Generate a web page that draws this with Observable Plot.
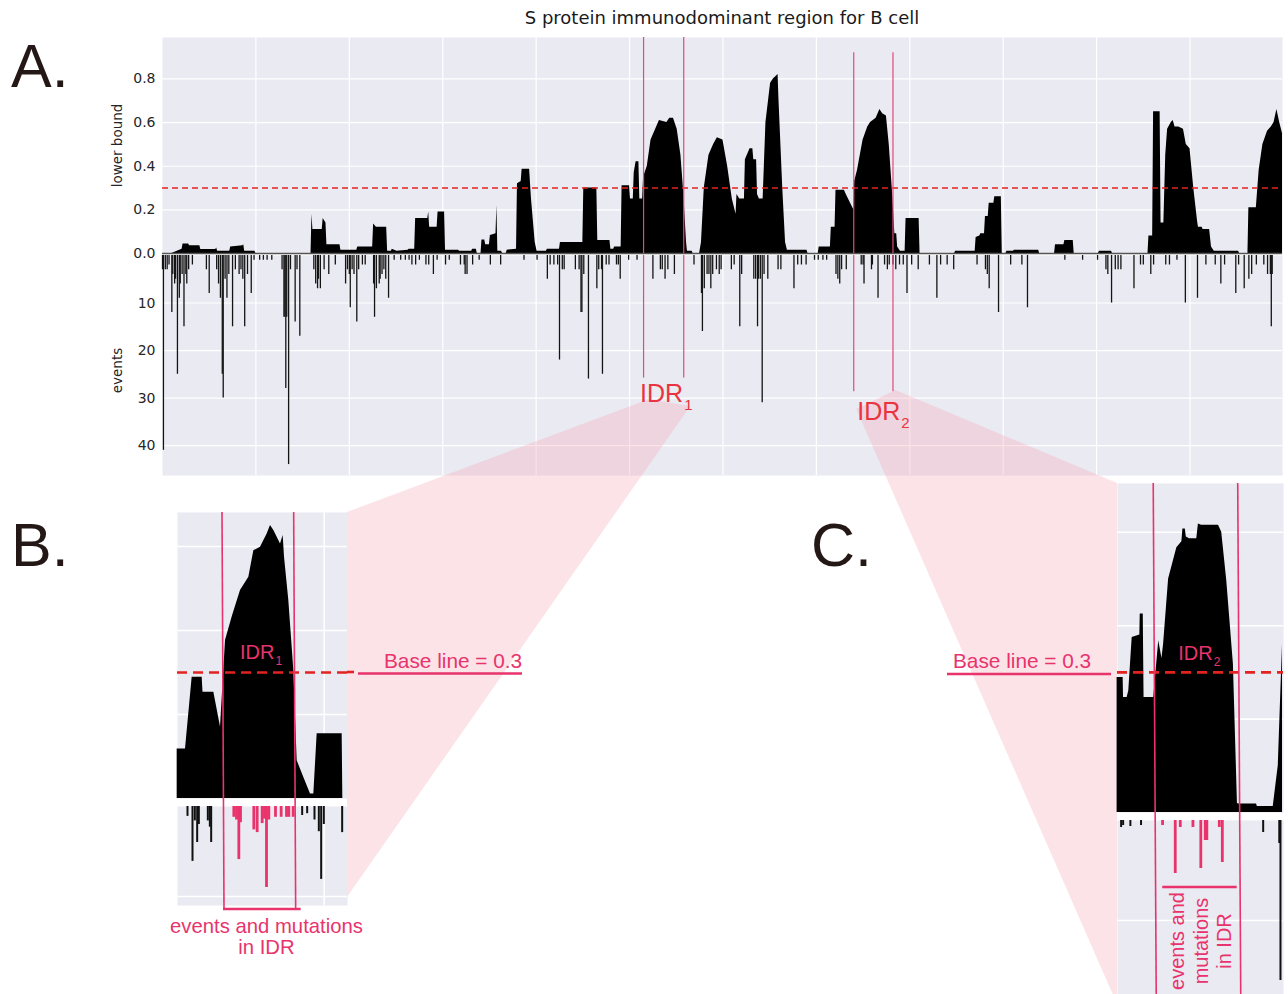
<!DOCTYPE html>
<html>
<head>
<meta charset="utf-8">
<script src="https://cdn.jsdelivr.net/npm/d3@7"></script>
<script src="https://cdn.jsdelivr.net/npm/@observablehq/plot@0.6"></script>
<style>
  html, body { margin: 0; padding: 0; background: #fff; }
  body { width: 1288px; height: 994px; position: relative; overflow: hidden; }
  .pane { position: absolute; }
  .pane svg { display: block; overflow: visible; }
</style>
</head>
<body>
<script>
// ---------------- DATA ----------------
// Panel A, upper track: lower bound along the S protein (residue position, value)
const lbPos = [
  0,10,21,22,28,29,40,41,57,58,
  59,72,73,86,87,88,99,100,159,160,
  161,171,172,175,176,190,191,208,209,225,
  226,229,240,241,245,246,251,263,264,270,
  271,284,285,286,294,295,302,303,317,318,
  331,332,336,337,341,342,345,346,350,351,
  357,358,359,363,364,368,369,379,380,384,
  385,393,395,397,399,401,411,412,425,426,
  450,451,465,466,479,480,483,484,491,492,
  500,501,504,505,507,510,511,514,515,519,
  523,529,532,540,543,547,551,555,558,561,
  562,567,568,575,577,580,585,590,594,600,
  605,610,614,615,618,623,624,629,632,633,
  636,637,639,643,646,651,654,659,660,664,
  667,669,690,691,702,703,715,716,720,721,
  730,732,740,741,744,750,755,758,764,768,
  771,775,778,782,784,786,787,790,795,796,
  810,811,848,849,870,871,875,876,880,881,
  884,885,890,891,898,899,903,904,911,912,
  938,939,955,956,965,966,975,976,1002,1003,
  1016,1017,1055,1056,1060,1061,1068,1069,1072,1074,
  1076,1080,1082,1084,1088,1093,1096,1100,1104,1108,
  1109,1113,1114,1121,1123,1126,1152,1153,1162,1163,
  1171,1174,1178,1183,1187,1190,1193,1196,1199
];
const lbVal = [
  0,0,0.02,0.044,0.044,0.035,0.035,0.018,0.018,0.025,
  0.01,0.01,0.03,0.035,0.04,0.01,0.01,0,0,0.18,
  0.11,0.11,0.16,0.14,0.04,0.04,0.015,0.015,0.03,0.03,
  0.135,0.12,0.12,0.01,0.01,0.02,0.01,0.015,0.02,0.02,
  0.16,0.16,0.19,0.12,0.12,0.19,0.19,0.015,0.015,0.01,
  0.01,0.02,0.02,0,0,0.062,0.062,0.04,0.04,0.083,
  0.09,0.22,0.01,0.01,0,0,0.015,0.02,0.32,0.33,
  0.386,0.386,0.25,0.15,0.05,0.01,0.01,0.02,0.02,0.05,
  0.05,0.30,0.30,0.06,0.06,0.02,0.02,0.03,0.03,0.31,
  0.31,0.25,0.25,0.37,0.42,0.42,0.25,0.25,0.35,0.40,
  0.52,0.58,0.61,0.60,0.62,0.62,0.57,0.45,0.28,0.05,
  0.01,0.01,0,0,0.05,0.30,0.45,0.50,0.53,0.52,
  0.40,0.25,0.18,0.27,0.25,0.25,0.43,0.48,0.48,0.43,
  0.43,0.27,0.25,0.25,0.60,0.78,0.80,0.82,0.70,0.30,
  0.05,0.015,0.015,0,0,0.03,0.03,0.12,0.12,0.29,
  0.29,0.27,0.20,0.33,0.38,0.52,0.58,0.60,0.62,0.66,
  0.64,0.63,0.50,0.25,0.09,0.09,0.03,0.01,0.01,0.16,
  0.16,0,0,0.01,0.01,0.073,0.08,0.09,0.09,0.17,
  0.17,0.23,0.23,0.26,0.26,0,0,0.01,0.01,0.015,
  0.015,0,0,0.04,0.04,0.06,0.06,0,0,0.01,
  0.01,0,0,0.08,0.08,0.65,0.65,0.14,0.14,0.45,
  0.57,0.60,0.61,0.58,0.58,0.57,0.50,0.48,0.30,0.15,
  0.12,0.12,0.11,0.11,0.03,0.01,0.01,0,0,0.21,
  0.21,0.38,0.50,0.56,0.58,0.60,0.66,0.60,0.55
];
// Panel A, lower track: events per residue
const evPos = [
  0,1,3,5,7,10,11,13,14,16,18,19,21,23,25,26,28,32,47,50,58,60,62,64,65,67,69,71,75,78,
  82,84,86,88,91,95,98,104,108,112,117,128,130,131,132,133,135,137,142,144,147,162,164,166,167,
  169,173,178,185,196,198,200,201,203,205,208,210,214,217,226,227,229,232,233,235,237,239,242,
  248,255,260,264,267,271,275,282,285,290,294,303,307,319,323,324,326,332,339,351,362,387,401,
  412,415,419,423,425,428,430,442,446,448,449,451,456,465,467,470,471,475,478,486,488,490,499,
  508,525,533,535,538,541,548,569,577,578,580,583,585,587,589,593,596,598,609,612,618,620,633,
  635,637,638,640,642,644,648,659,662,676,680,684,689,698,702,707,711,721,723,725,727,732,748,
  750,751,759,760,766,773,776,778,782,785,789,793,797,802,809,
  821,829,833,840,847,872,881,883,885,895,908,920,926,966,985,1001,1010,1012,1016,1020,1023,
  1026,1040,1047,1050,1058,1061,1074,1078,1086,1095,1108,1117,1127,1133,1137,1149,1152,1158,
  1163,1166,1171,1179,1183,1186,1187,1188
];
const evCount = [
  3,41,3,3,2,12,4,6,5,25,9,6,4,15,4,6,3,2,3,8,3,6,9,25,30,5,9,4,15,3,
  4,3,5,15,4,8,1,1,1,1,1,3,13,13,28,13,44,3,14,3,17,3,6,7,5,
  7,3,4,2,6,3,4,11,3,4,14,3,2,2,6,13,7,6,5,4,3,5,9,
  1,1,1,1,2,2,1,2,2,4,1,2,1,2,2,4,4,2,1,2,2,1,1,
  5,2,2,2,22,3,3,3,3,12,12,4,26,7,3,3,25,2,2,2,2,5,1,
  1,5,3,3,5,3,4,2,8,16,7,4,4,7,4,3,4,3,3,2,15,4,5,
  5,15,5,5,31,4,5,3,3,7,2,2,2,1,1,1,1,4,5,6,3,3,2,
  2,6,3,2,9,2,3,2,2,3,2,2,8,2,3,
  2,9,2,2,3,2,3,4,7,12,2,2,11,1,1,1,3,4,10,3,3,
  3,7,2,2,4,2,2,2,1,10,9,2,2,6,2,8,2,7,
  5,4,2,2,4,4,15,4
];
// Axis ticks, grid, regions
const lbTicks = [0, 0.2, 0.4, 0.6, 0.8];
const evTicks = [10, 20, 30, 40];
const gridPos = [100, 200, 300, 400, 500, 600, 700, 800, 900, 1000, 1100];
const idr1 = [515, 558];
const idr2 = [740, 782];
const baseLine = 0.3;

// Panel B (zoom on IDR1)
const insetBPos = [487.8,492.8,496.8,502.8,503.3,509.8,513.8,516.8,520.8,525.8,530.8,533.8,537.8,541.8,543.8,545.8,547.8,549.8,551.4,552.2,554.8,557.8,559.8,563.8,567.8,569.8,571.8,586.8,587.2,590];
const insetBVal = [0.118,0.118,0.289,0.289,0.253,0.253,0.17,0.376,0.432,0.495,0.527,0.59,0.598,0.63,0.65,0.638,0.622,0.606,0.626,0.575,0.471,0.305,0.09,0.05,0.011,0.011,0.154,0.154,0,0];
const insetBEvPos = [494,497,498.4,499.8,500.8,506.2,507.4,508.2,521.8,523.4,524.8,525.8,533.8,535.8,538.8,540.2,541.4,542.8,546.8,550.2,553.4,554.8,557.4,562.8,565.8,570.2,572.8,574.2,575.8,586.8];
const insetBEvCount = [1.1,6.1,1.6,4.0,2,1.6,2.3,4,1.2,1.5,5.9,1.8,2.6,2.9,1.9,1.4,9.0,1.5,1.2,1.2,1.2,1.2,1.2,1.0,0.8,1.5,2.8,8.1,2,2.9];
const insetBGrid = [576];

// Panel C (zoom on IDR2)
const insetCPos = [721.8,724.8,725.0,726.8,727.6,729.3,733.1,733.3,734.8,735.2,740,742.5,744.1,744.9,747.4,751.5,754,754.5,755.7,756.2,757.8,761.4,762.2,763.8,772.2,773.8,776.3,779.6,781.6,782.1,791.1,791.5,799.4,801.9,804];
const insetCVal = [0.289,0.289,0.246,0.246,0.26,0.375,0.38,0.425,0.425,0.246,0.246,0.368,0.33,0.36,0.5,0.567,0.58,0.607,0.607,0.59,0.586,0.586,0.618,0.615,0.615,0.6,0.496,0.318,0.02,0.018,0.018,0.013,0.013,0.1,0.36];
const insetCEvPos = [723.8,724.8,728.4,733.7,744.4,750.7,753.2,759.5,763.4,765.6,766.4,772.6,774.1,794.4,802.4,803];
const insetCEvCount = [0.7,0.5,0.6,0.5,0.5,5.3,0.7,0.7,4.8,2.0,2.0,0.7,4.2,1.2,2.3,16];
const insetCGrid = [];

// ---------------- LAYOUT / STYLE ----------------
const W = 1288, H = 994;
const BG = "#eaeaf2";
const RED = "#e3231f";
const PINK = "#e8336d";
const IDRC = "#e4497a";
const LABELRED = "#ea3340";
const POLY = "#f4a3b0";
const SANS = "'Liberation Sans', Arial, sans-serif";
const DEJAVU = "'DejaVu Sans', sans-serif";
const FL = 162, FR = 1282;
const TOP_Y0 = 37, TOP_Y1 = 253, EV_Y0 = 255, EV_Y1 = 475;
const B = {left: 177, right: 347, top: 512, areaBottom: 798, evTop: 806, evBottom: 905};
const C = {left: 1117, right: 1283, top: 483, areaBottom: 812, evTop: 820, evBottom: 994};

const plotStyle = {fontFamily: DEJAVU, fontSize: "14px", color: "#262626", background: "transparent", overflow: "visible"};

function place(node, left, top) {
  const d = document.createElement("div");
  d.className = "pane";
  d.style.left = left + "px";
  d.style.top = top + "px";
  d.appendChild(node);
  document.body.appendChild(d);
  return node;
}
function overlay() {
  const s = d3.create("svg").attr("width", W).attr("height", H)
    .style("position", "absolute").style("left", "0px").style("top", "0px").style("overflow", "visible");
  document.body.appendChild(s.node());
  return s;
}

// ---------------- PANEL A ----------------
const topPad = 10;
const topPlot = Plot.plot({
  width: W, height: (TOP_Y1 - TOP_Y0) + topPad,
  marginLeft: FL, marginRight: W - FR, marginTop: topPad, marginBottom: 0,
  style: plotStyle,
  x: {domain: [0, 1199], axis: null},
  y: {domain: [0, 0.99], ticks: lbTicks, tickFormat: ".1f", tickSize: 0, tickPadding: 7, label: null},
  marks: [
    Plot.frame({fill: BG, stroke: "none"}),
    Plot.ruleX(gridPos, {stroke: "white", strokeWidth: 1.2}),
    Plot.ruleY(lbTicks.slice(1), {stroke: "white", strokeWidth: 1.2}),
    Plot.areaY(lbPos, {x: lbPos, y1: 0, y2: lbVal, fill: "black"}),
    Plot.ruleY([0], {stroke: "#555", strokeWidth: 1.4}),
    Plot.ruleY([baseLine], {stroke: RED, strokeWidth: 1.6, strokeDasharray: "6,4"}),
    Plot.ruleX(idr1, {y1: 0, y2: 0.99, stroke: IDRC, strokeWidth: 1.2}),
    Plot.ruleX(idr2, {y1: 0, y2: 0.92, stroke: IDRC, strokeWidth: 1.2}),
    Plot.text(["lower bound"], {text: d => d, frameAnchor: "left", textAnchor: "middle", dx: -45, rotate: -90, fontSize: 13.5, fill: "#262626"})
  ]
});
place(topPlot, 0, TOP_Y0 - topPad);

const evPlot = Plot.plot({
  width: W, height: EV_Y1 - EV_Y0,
  marginLeft: FL, marginRight: W - FR, marginTop: 0, marginBottom: 0,
  style: plotStyle,
  x: {domain: [0, 1199], axis: null},
  y: {domain: [0, 46.3], reverse: true, ticks: evTicks, tickSize: 0, tickPadding: 7, label: null},
  marks: [
    Plot.frame({fill: BG, stroke: "none"}),
    Plot.ruleX(gridPos, {stroke: "white", strokeWidth: 1.2}),
    Plot.ruleY(evTicks, {stroke: "white", strokeWidth: 1.2}),
    Plot.ruleX(evPos, {x: evPos, y1: 0, y2: evCount, stroke: "#141414", strokeWidth: 1.3}),
    Plot.ruleX(idr1, {y1: 0, y2: 25.8, stroke: IDRC, strokeWidth: 1.2}),
    Plot.ruleX(idr2, {y1: 0, y2: 28.7, stroke: IDRC, strokeWidth: 1.2}),
    Plot.text(["events"], {text: d => d, frameAnchor: "left", textAnchor: "middle", dx: -45, dy: 5, rotate: -90, fontSize: 13.5, fill: "#262626"})
  ]
});
place(evPlot, 0, EV_Y0);

const mx = v => evPlot.scale("x").apply(v);
const ey = v => EV_Y0 + evPlot.scale("y").apply(v);

// ---------------- CONNECTORS (behind insets) ----------------
const back = overlay();
const pts = a => a.map(p => p.join(",")).join(" ");
back.append("polygon")
  .attr("points", pts([[B.right, B.top], [mx(idr1[0]) + 5, ey(30.4)], [mx(idr1[1]) + 7, ey(31.8)], [B.right, B.evBottom - 8]]))
  .attr("fill", POLY).attr("fill-opacity", 0.3);
back.append("polygon")
  .attr("points", pts([[mx(idr2[0]) + 3, ey(32.4)], [mx(idr2[1]) + 3, ey(28.4)], [C.left, C.top], [C.left, H + 10]]))
  .attr("fill", POLY).attr("fill-opacity", 0.3);

// ---------------- INSETS ----------------
function insetPlots(box, xDom, yMaxA, yMaxE, pos, val, evP, evC, idr, gridX) {
  const common = {marginLeft: 0, marginRight: 0, marginTop: 0, marginBottom: 0, width: box.right - box.left, style: plotStyle};
  const area = Plot.plot({
    ...common, height: box.areaBottom - box.top,
    x: {domain: xDom, axis: null}, y: {domain: [0, yMaxA], axis: null},
    marks: [
      Plot.frame({fill: BG, stroke: "none"}),
      Plot.ruleY(lbTicks.filter(t => t > 0 && t < yMaxA), {stroke: "white", strokeWidth: 1.6}),
      Plot.ruleX(gridX, {stroke: "white", strokeWidth: 1.6}),
      Plot.areaY(pos, {x: pos, y1: 0, y2: val, fill: "black"}),
      Plot.ruleY([baseLine], {stroke: RED, strokeWidth: 2.6, strokeDasharray: "10,6"})
    ]
  });
  const inside = p => p >= idr[0] && p <= idr[1];
  const ev = Plot.plot({
    ...common, height: box.evBottom - box.evTop,
    x: {domain: xDom, axis: null}, y: {domain: [0, yMaxE], reverse: true, axis: null},
    marks: [
      Plot.frame({fill: BG, stroke: "none"}),
      Plot.ruleY(evTicks.filter(t => t < yMaxE), {stroke: "white", strokeWidth: 1.6}),
      Plot.ruleX(gridX, {stroke: "white", strokeWidth: 1.6}),
      Plot.ruleX(evP, {x: evP, y1: 0, y2: evC, stroke: "#111", strokeWidth: 2, filter: p => !inside(p)}),
      Plot.ruleX(evP, {x: evP, y1: 0, y2: evC, stroke: PINK, strokeWidth: 2.8, filter: p => inside(p)})
    ]
  });
  place(area, box.left, box.top);
  place(ev, box.left, box.evTop);
  return {area, ev};
}
const inB = insetPlots(B, [488, 590], 0.681, 11, insetBPos, insetBVal, insetBEvPos, insetBEvCount, idr1, insetBGrid);
const inC = insetPlots(C, [722, 804.5], 0.7045, 17.4, insetCPos, insetCVal, insetCEvPos, insetCEvCount, idr2, insetCGrid);

const bx = v => B.left + inB.area.scale("x").apply(v);
const by = v => B.top + inB.area.scale("y").apply(v);
const cx = v => C.left + inC.area.scale("x").apply(v);
const cy = v => C.top + inC.area.scale("y").apply(v);

// ---------------- ANNOTATIONS (front) ----------------
const front = overlay();
function line(x1, y1, x2, y2, stroke, w, dash) {
  const l = front.append("line").attr("x1", x1).attr("y1", y1).attr("x2", x2).attr("y2", y2)
    .attr("stroke", stroke).attr("stroke-width", w);
  if (dash) l.attr("stroke-dasharray", dash);
  return l;
}
function text(x, y, s, size, fill, family, anchor) {
  return front.append("text").attr("x", x).attr("y", y).attr("font-size", size)
    .attr("font-family", family || SANS).attr("fill", fill).attr("text-anchor", anchor || "start").text(s);
}
function idrLabel(x, y, num, size, subSize, color) {
  const t = front.append("text").attr("x", x).attr("y", y).attr("font-family", SANS)
    .attr("font-size", size).attr("fill", color);
  t.append("tspan").text("IDR");
  t.append("tspan").attr("dx", 1).attr("dy", Math.round(size * 0.3)).attr("font-size", subSize).text(num);
}

// Title and panel letters
text((FL + FR) / 2, 24, "S protein immunodominant region for B cell", 18, "#1a1a1a", DEJAVU, "middle");
text(11, 87, "A.", 61, "#231815");
text(11, 566, "B.", 61, "#231815");
text(811, 566, "C.", 61, "#231815");

// Main IDR labels
idrLabel(mx(idr1[0]) - 3, ey(30.9), "1", 25, 15, LABELRED);
idrLabel(mx(idr2[0]) + 4, ey(34.7), "2", 25, 15, LABELRED);

// Inset B annotations
idr1.forEach(p => line(bx(p), B.top, bx(p) + 2, B.evBottom + 4, PINK, 1.6));
idrLabel(bx(idr1[0]) + 18, by(0.33), "1", 20, 12, PINK);
line(B.right, by(baseLine), B.right + 11, by(baseLine), RED, 2.6, "7,5");
line(358, by(baseLine) + 1.5, 522, by(baseLine) + 1.5, PINK, 2.5);
text(384, by(baseLine) - 4, "Base line = 0.3", 20.8, PINK);
line(bx(idr1[0]) + 1, B.evBottom + 4, bx(idr1[1]) + 7, B.evBottom + 4, PINK, 2.5);
text(266.5, 933, "events and mutations", 20.3, PINK, SANS, "middle");
text(266.5, 954, "in IDR", 20.3, PINK, SANS, "middle");

// Inset C annotations
idr2.forEach(p => line(cx(p), C.top, cx(p) + 3, H, PINK, 1.6));
idrLabel(cx(idr2[0]) + 25, cy(0.325), "2", 20, 12, PINK);
line(947, cy(baseLine) + 2, 1111, cy(baseLine) + 2, PINK, 2.5);
text(953, cy(baseLine) - 4, "Base line = 0.3", 20.8, PINK);
line(cx(idr2[0]) + 9, 887, cx(idr2[1]) - 1, 887, PINK, 2.5);
[["events and", 1184], ["mutations", 1208], ["in IDR", 1231]].forEach(([s, x]) => {
  front.append("text").attr("transform", `translate(${x},941) rotate(-90)`)
    .attr("font-family", SANS).attr("font-size", 20).attr("fill", PINK)
    .attr("text-anchor", "middle").text(s);
});
</script>
</body>
</html>
